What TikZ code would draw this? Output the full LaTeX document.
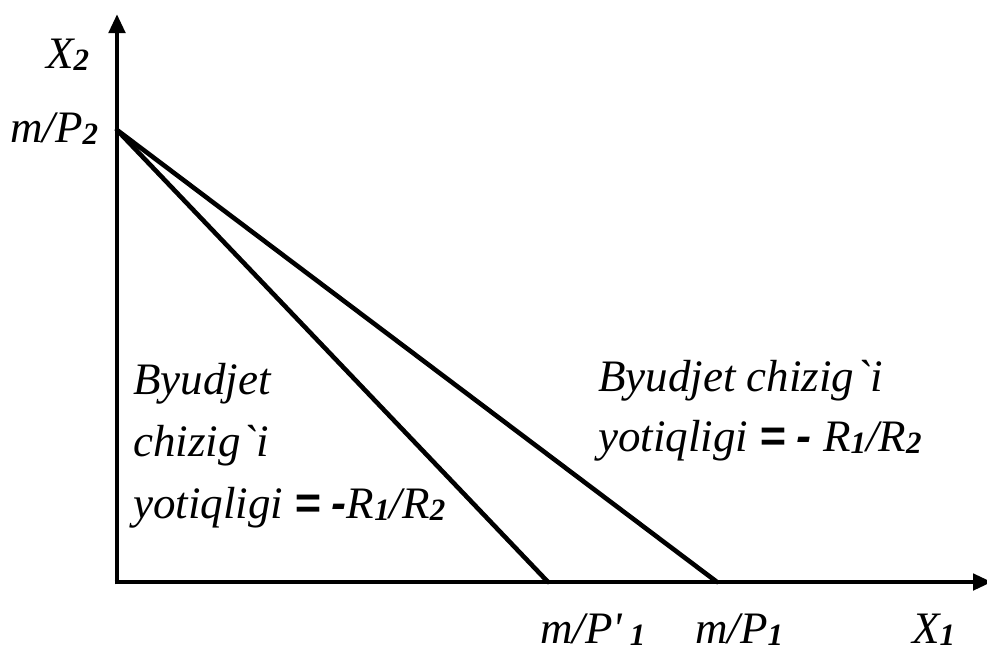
\documentclass[tikz,border=0pt]{standalone}
\usepackage{fontspec}
\setmainfont{Liberation Serif}
\newfontfamily\symfont{Liberation Sans}
\newfontfamily\rawserif{Liberation Serif}
\usetikzlibrary{arrows.meta}
\newcommand\sbs[1]{\raisebox{-0.06em}{\fontsize{31}{31}\selectfont\bfseries\itshape #1}}
\newcommand\eqm{{\symfont\bfseries =}}
\newcommand\mns{{\symfont\bfseries -}}
\newcommand\grv{{\rawserif\itshape\char96}}
\tikzset{
  axis/.style={line width=4.6pt, -{Triangle[length=19pt,width=16pt]}},
  budget/.style={line width=4.6pt, line cap=round},
  lbl/.style={font=\fontsize{45}{57}\selectfont\itshape, inner sep=0pt, anchor=base west, align=left},
}
\begin{document}
\begin{tikzpicture}[x=1pt,y=-1pt]
\useasboundingbox (0,0) rectangle (987,657);
\coordinate (O) at (117,582);
\coordinate (Ytop) at (117,14);
\coordinate (Xend) at (992,582);
\coordinate (A) at (117,130);
\coordinate (B) at (548,582);
\coordinate (C) at (717,582);
\draw[axis] ([yshift=-2.3pt]O) -- (Ytop);
\draw[axis] ([xshift=-2.3pt]O) -- (Xend);
\draw[budget] (A) -- (B);
\draw[budget] (A) -- (C);
\node[lbl] (x2) at (46,68) {X\sbs{2}};
\node[lbl] (mp2) at (10,142) {m/P\sbs{2}};
\node[lbl] (mpp1) at (540,643) {m/P\textquotesingle\,\sbs{1}};
\node[lbl] (mp1) at (695,643) {m/P\sbs{1}};
\node[lbl] (x1) at (912,643) {X\sbs{1}};
\node[lbl, font=\fontsize{45}{62}\selectfont\itshape] (tl) at (133,518) {Byudjet\\chizig\kern1pt\grv i\\yotiqligi \eqm{} \mns{}R\sbs{1}/R\sbs{2}};
\node[lbl, font=\fontsize{45}{60}\selectfont\itshape] (tr) at (598,451) {Byudjet chizig\kern1pt\grv i\\yotiqligi \eqm{} \mns{} R\sbs{1}/R\sbs{2}};
\end{tikzpicture}
\end{document}
